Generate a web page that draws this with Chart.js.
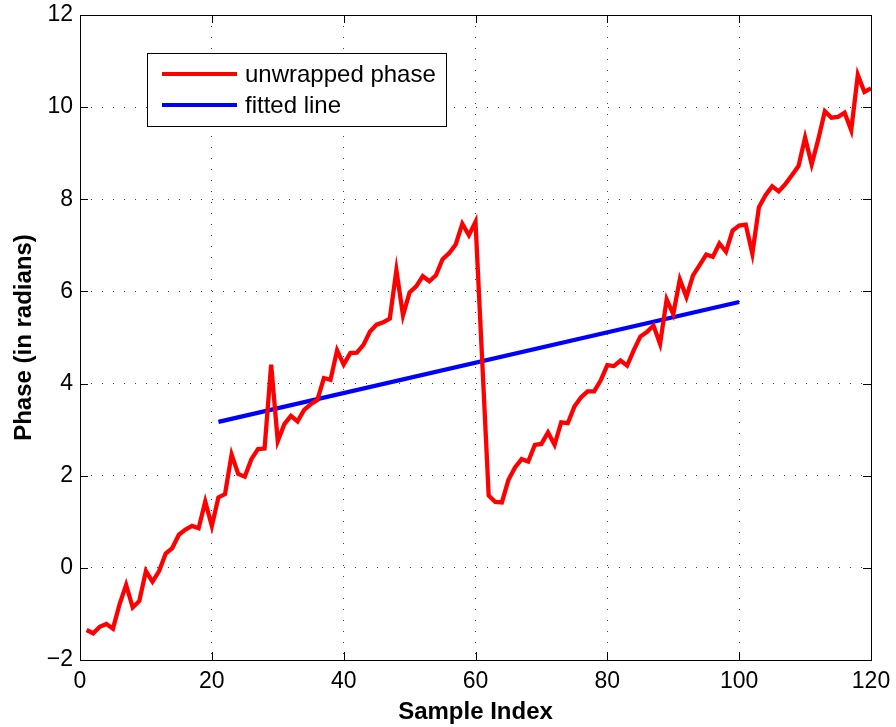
<!DOCTYPE html>
<html>
<head>
<meta charset="utf-8">
<script src="https://cdn.jsdelivr.net/npm/chart.js@4.4.0/dist/chart.umd.min.js"></script>
<style>
  html, body { margin: 0; padding: 0; background: #fff; }
  #wrap { width: 896px; height: 727px; }
</style>
</head>
<body>
<div id="wrap"><canvas id="myChart" width="896" height="727"></canvas></div>
<script>
/**
 * data
 */
var phase = [
  -1.35, -1.42, -1.28, -1.22, -1.32, -0.79, -0.37, -0.86, -0.72, -0.07,
  -0.30, -0.07, 0.31, 0.43, 0.72, 0.83, 0.91, 0.86, 1.44, 0.91,
  1.53, 1.60, 2.46, 2.04, 1.98, 2.36, 2.58, 2.59, 4.41, 2.75,
  3.12, 3.30, 3.18, 3.43, 3.55, 3.64, 4.12, 4.08, 4.72, 4.41,
  4.66, 4.67, 4.84, 5.13, 5.28, 5.33, 5.41, 6.46, 5.48, 5.98,
  6.11, 6.33, 6.22, 6.35, 6.70, 6.83, 7.02, 7.47, 7.22, 7.51,
  4.55, 1.57, 1.43, 1.42, 1.91, 2.18, 2.36, 2.31, 2.67, 2.69,
  2.94, 2.67, 3.16, 3.14, 3.50, 3.70, 3.83, 3.83, 4.07, 4.40,
  4.38, 4.50, 4.39, 4.72, 5.02, 5.12, 5.26, 4.86, 5.83, 5.51,
  6.26, 5.88, 6.35, 6.57, 6.80, 6.75, 7.04, 6.86, 7.32, 7.43,
  7.45, 6.82, 7.83, 8.09, 8.28, 8.17, 8.33, 8.52, 8.72, 9.34,
  8.76, 9.30, 9.91, 9.77, 9.79, 9.88, 9.50, 10.70, 10.33, 10.41
];
var sampleIndex = phase.map((p, i) => i + 1);

var fitX = [21, 100];
var fitY = [3.17, 5.77];

var xTicks = [0, 20, 40, 60, 80, 100, 120];
var yTicks = [-2, 0, 2, 4, 6, 8, 10, 12];

var FONT = '"Liberation Sans", Arial, Helvetica, sans-serif';

// box, inward ticks and the legend, matlab style
const matlabAxes = {
  id: 'matlabAxes',
  afterDraw(chart) {
    const ctx = chart.ctx;
    const a = chart.chartArea;
    const xs = chart.scales.x, ys = chart.scales.y;
    const tl = 8;
    ctx.save();
    ctx.strokeStyle = '#000';
    ctx.lineWidth = 1;
    ctx.beginPath();
    xTicks.forEach(v => {
      const px = Math.round(xs.getPixelForValue(v)) + 0.5;
      ctx.moveTo(px, a.bottom); ctx.lineTo(px, a.bottom - tl);
      ctx.moveTo(px, a.top); ctx.lineTo(px, a.top + tl);
    });
    yTicks.forEach(v => {
      const py = Math.round(ys.getPixelForValue(v)) + 0.5;
      ctx.moveTo(a.left, py); ctx.lineTo(a.left + tl, py);
      ctx.moveTo(a.right, py); ctx.lineTo(a.right - tl, py);
    });
    ctx.stroke();
    ctx.strokeRect(Math.round(a.left) + 0.5, Math.round(a.top) + 0.5,
      Math.round(a.right - a.left), Math.round(a.bottom - a.top));

    // legend
    const lx = 147.5, ly = 53.5, lw = 299, lh = 73;
    ctx.fillStyle = '#fff';
    ctx.fillRect(lx, ly, lw, lh);
    ctx.strokeRect(lx, ly, lw, lh);
    ctx.font = '24px ' + FONT;
    ctx.textBaseline = 'middle';
    chart.data.datasets.forEach((ds, i) => {
      const y = 74 + i * 31;
      ctx.strokeStyle = ds.borderColor;
      ctx.lineWidth = 4;
      ctx.beginPath();
      ctx.moveTo(162, y); ctx.lineTo(237, y);
      ctx.stroke();
      ctx.fillStyle = '#000';
      ctx.fillText(ds.label, 245, y + 1);
    });
    ctx.restore();
  }
};

const config = {
  type: 'line',
  data: {
    datasets: [
      {
        label: 'unwrapped phase',
        data: sampleIndex.map((x, i) => ({ x, y: phase[i] })),
        borderColor: '#ff0000',
        backgroundColor: '#ff0000',
        borderWidth: 4.3,
        pointRadius: 0,
        tension: 0,
      },
      {
        label: 'fitted line',
        data: fitX.map((x, i) => ({ x, y: fitY[i] })),
        borderColor: '#0000ff',
        backgroundColor: '#0000ff',
        borderWidth: 4.3,
        pointRadius: 0,
        tension: 0,
      },
    ]
  },
  options: {
    responsive: false,
    animation: false,
    layout: { padding: { top: 15, right: 25, left: 0, bottom: 0 } },
    plugins: {
      legend: { display: false },
      tooltip: { enabled: false },
    },
    scales: {
      x: {
        type: 'linear',
        min: 0, max: 120,
        afterBuildTicks: s => { s.ticks = xTicks.map(v => ({ value: v })); },
        afterFit: s => { s.height = 67; s.paddingLeft = 0; s.paddingRight = 0; },
        ticks: {
          color: '#000', padding: 8,
          font: { family: FONT, size: 23 },
          maxRotation: 0,
        },
        grid: { color: 'rgba(0,0,0,0.75)', lineWidth: 1, drawTicks: false },
        border: { display: false, dash: [1, 10] },
        title: {
          display: true, text: 'Sample Index', color: '#000',
          font: { family: FONT, size: 24, weight: 'bold' },
          padding: { top: 0, bottom: 0 },
        },
      },
      y: {
        type: 'linear',
        min: -2, max: 12,
        afterBuildTicks: s => { s.ticks = yTicks.map(v => ({ value: v })); },
        afterFit: s => { s.width = 80; s.paddingTop = 0; s.paddingBottom = 0; },
        ticks: {
          color: '#000', padding: 7,
          font: { family: FONT, size: 23 },
          callback: v => (v < 0 ? '\u2212' + Math.abs(v) : '' + v),
        },
        grid: { color: 'rgba(0,0,0,0.75)', lineWidth: 1, drawTicks: false },
        border: { display: false, dash: [1, 10] },
        title: {
          display: true, text: 'Phase (in radians)', color: '#000',
          font: { family: FONT, size: 24, weight: 'bold' },
          padding: { top: 10, bottom: 0 },
        },
      },
    },
  },
  plugins: [matlabAxes],
};

document.addEventListener('DOMContentLoaded', (event) => {
  myChart = new Chart(document.getElementById('myChart'), config);
});
</script>
</body>
</html>
